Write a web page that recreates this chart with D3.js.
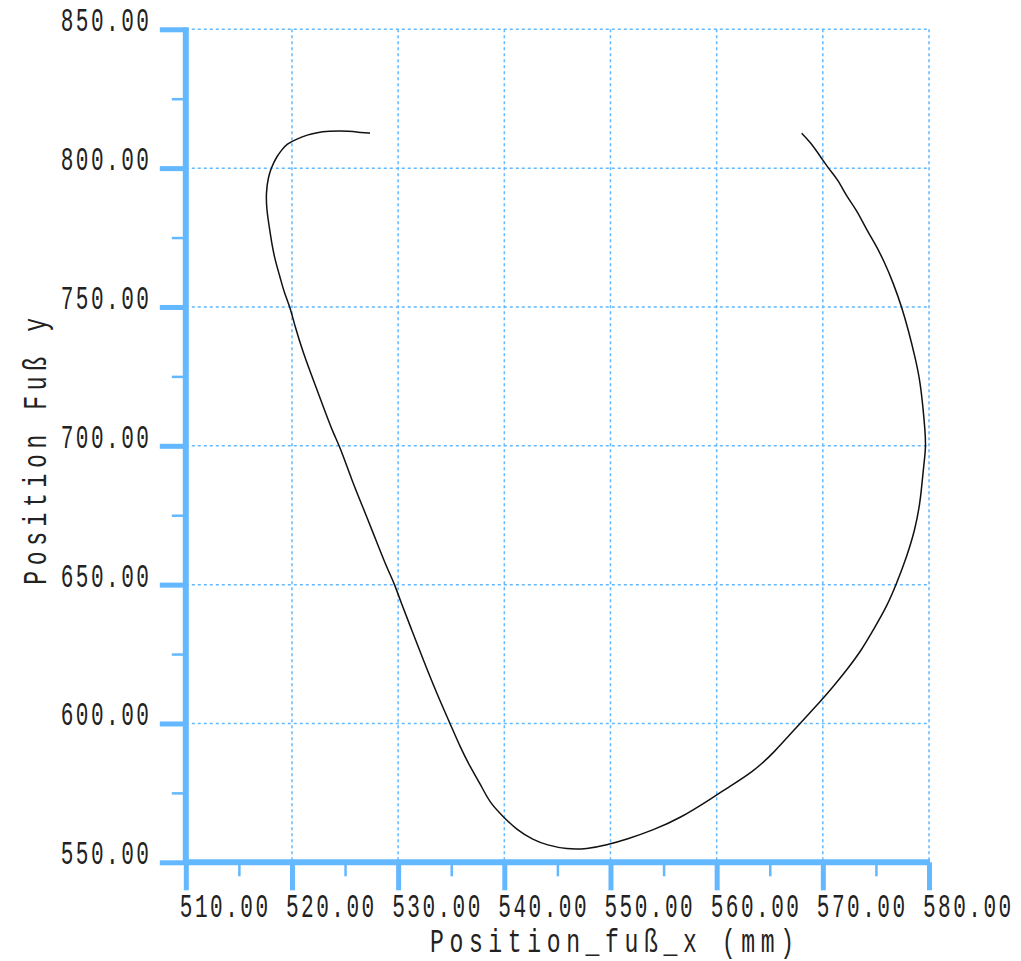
<!DOCTYPE html>
<html>
<head>
<meta charset="utf-8">
<script src="https://cdn.jsdelivr.net/npm/d3@7"></script>
<style>
  html, body { margin: 0; padding: 0; background: #ffffff; }
  svg { display: block; }
</style>
</head>
<body>
<svg id="chart" width="1021" height="961"></svg>
<script>
// ---- data ----
const xTicks = [510, 520, 530, 540, 550, 560, 570, 580];
const yTicks = [550, 600, 650, 700, 750, 800, 850];
const xMinorTicks = [515, 525, 535, 545, 555, 565, 575];
const yMinorTicks = [575, 625, 675, 725, 775, 825];
const xTitle = "Position_fuß_x (mm)";
const yTitle = "Position Fuß y";

const footX = [527.35, 526.57, 525.47, 523.39, 522.17, 521.51, 520.45, 519.50, 519.03, 518.56,
  518.09, 517.77, 517.55, 517.62, 517.86, 518.09, 518.40, 518.87, 519.25, 519.81,
  520.29, 521.07, 522.01, 522.95, 523.89, 524.52, 525.63, 526.72, 527.66, 528.76,
  529.70, 530.18, 531.28, 532.37, 533.63, 534.88, 535.83, 536.77, 537.71, 538.65,
  539.90, 541.17, 542.73, 543.99, 545.88, 547.76, 549.64, 551.53, 554.03, 556.55,
  559.68, 560.95, 563.45, 565.34, 567.85, 569.89, 570.84, 572.25, 573.66, 574.75,
  576.02, 576.96, 577.90, 578.68, 579.15, 579.31, 579.46, 579.72, 579.62, 579.46,
  579.15, 578.68, 578.05, 577.43, 576.64, 575.86, 574.91, 574.13, 573.19, 572.25,
  571.46, 570.52, 569.89, 568.79, 568.01];
const footY = [812.65, 812.76, 813.37, 813.37, 812.65, 812.04, 810.49, 808.69, 806.53, 804.12,
  800.52, 796.92, 791.05, 784.92, 778.91, 773.04, 766.92, 760.90, 755.39, 750.10,
  742.89, 733.31, 723.70, 714.08, 704.50, 699.68, 687.68, 677.49, 668.49, 657.68,
  649.87, 644.47, 633.66, 622.86, 610.87, 600.06, 591.64, 584.43, 578.45, 571.25,
  566.43, 561.64, 558.04, 556.23, 554.69, 554.79, 556.23, 558.29, 561.64, 565.85,
  573.41, 576.65, 582.63, 589.26, 600.06, 608.46, 612.67, 619.26, 626.46, 633.66,
  642.06, 650.48, 660.06, 669.68, 679.29, 685.27, 691.29, 699.68, 705.69, 712.90,
  723.70, 732.09, 741.71, 750.10, 758.52, 765.73, 772.93, 777.72, 784.92, 789.71,
  795.73, 799.94, 803.54, 809.52, 812.55];

// ---- layout ----
const mLeft = 185.8, mRight = 929, mTop = 29.3, mBottom = 862.3;
const axisColor = "#63b8ff";
const textColor = "#222";
const font = "'Liberation Mono', 'DejaVu Sans Mono', monospace";

const svg = d3.select("#chart");
const x = d3.scaleLinear().domain([510, 580]).range([mLeft, mRight]);
const y = d3.scaleLinear().domain([550, 850]).range([mBottom, mTop]);

// grid
const grid = svg.append("g");
grid.selectAll("line.gx").data(xTicks.slice(1)).join("line")
  .attr("x1", d => x(d)).attr("x2", d => x(d))
  .attr("y1", mTop).attr("y2", mBottom)
  .attr("stroke", axisColor).attr("stroke-width", 1.5)
  .attr("stroke-dasharray", "3,3");
grid.selectAll("line.gy").data(yTicks.slice(1)).join("line")
  .attr("y1", d => y(d)).attr("y2", d => y(d))
  .attr("x1", mLeft).attr("x2", mRight)
  .attr("stroke", axisColor).attr("stroke-width", 1.5)
  .attr("stroke-dasharray", "3,3");

// axes built with d3 axis generators, then styled
const xAxis = d3.axisBottom(x).tickValues(xTicks).tickSize(28).tickFormat("");
const xAxisMinor = d3.axisBottom(x).tickValues(xMinorTicks).tickSize(14).tickFormat("");
const yAxis = d3.axisLeft(y).tickValues(yTicks).tickSize(26).tickFormat("");
const yAxisMinor = d3.axisLeft(y).tickValues(yMinorTicks).tickSize(14).tickFormat("");

function styleAxis(g, w) {
  g.select(".domain").remove();
  g.selectAll(".tick line").attr("stroke", axisColor).attr("stroke-width", w);
}
svg.append("g").attr("transform", `translate(0,${mBottom})`).call(xAxisMinor).call(g => styleAxis(g, 2.5));
svg.append("g").attr("transform", `translate(0,${mBottom})`).call(xAxis).call(g => styleAxis(g, 5));
svg.append("g").attr("transform", `translate(${mLeft},0)`).call(yAxisMinor).call(g => styleAxis(g, 2.5));
svg.append("g").attr("transform", `translate(${mLeft},0)`).call(yAxis).call(g => styleAxis(g, 5));

// thick axis lines
svg.append("line").attr("x1", mLeft).attr("x2", mLeft).attr("y1", mTop - 2).attr("y2", mBottom)
  .attr("stroke", axisColor).attr("stroke-width", 6);
svg.append("line").attr("x1", mLeft).attr("x2", mRight + 1).attr("y1", mBottom).attr("y2", mBottom)
  .attr("stroke", axisColor).attr("stroke-width", 6);

// tick labels (narrow glyphs, wide spacing)
const tickSX = 0.62, tickLS = 4;
svg.append("g").selectAll("text").data(xTicks).join("text")
  .attr("transform", d => `translate(${x(d) - 6},917) scale(${tickSX},1)`)
  .attr("text-anchor", "start")
  .attr("font-family", font).attr("font-size", 34).attr("letter-spacing", tickLS)
  .attr("fill", textColor)
  .text(d => d.toFixed(2));
svg.append("g").selectAll("text").data(yTicks).join("text")
  .attr("transform", d => `translate(${149 + tickLS * tickSX},${y(d) + 2}) scale(${tickSX},1)`)
  .attr("text-anchor", "end")
  .attr("font-family", font).attr("font-size", 34).attr("letter-spacing", tickLS)
  .attr("fill", textColor)
  .text(d => d.toFixed(2));

// axis titles
const titleSX = 0.7, titleLS = 8;
svg.append("text")
  .attr("transform", `translate(${612 + titleLS * titleSX / 2},952) scale(${titleSX},1)`)
  .attr("text-anchor", "middle")
  .attr("font-family", font).attr("font-size", 33).attr("letter-spacing", titleLS)
  .attr("fill", textColor)
  .text(xTitle);
svg.append("text")
  .attr("transform", `translate(46,${(mTop + mBottom) / 2 + titleLS * titleSX / 2}) rotate(-90) scale(${titleSX},1)`)
  .attr("text-anchor", "middle")
  .attr("font-family", font).attr("font-size", 33).attr("letter-spacing", titleLS)
  .attr("fill", textColor)
  .text(yTitle);

// curve
const pts = footX.map((v, i) => [v, footY[i]]);
const line = d3.line().x(d => x(d[0])).y(d => y(d[1])).curve(d3.curveBasis);
svg.append("path").datum(pts)
  .attr("d", line)
  .attr("fill", "none").attr("stroke", "#111").attr("stroke-width", 1.5);
</script>
</body>
</html>
